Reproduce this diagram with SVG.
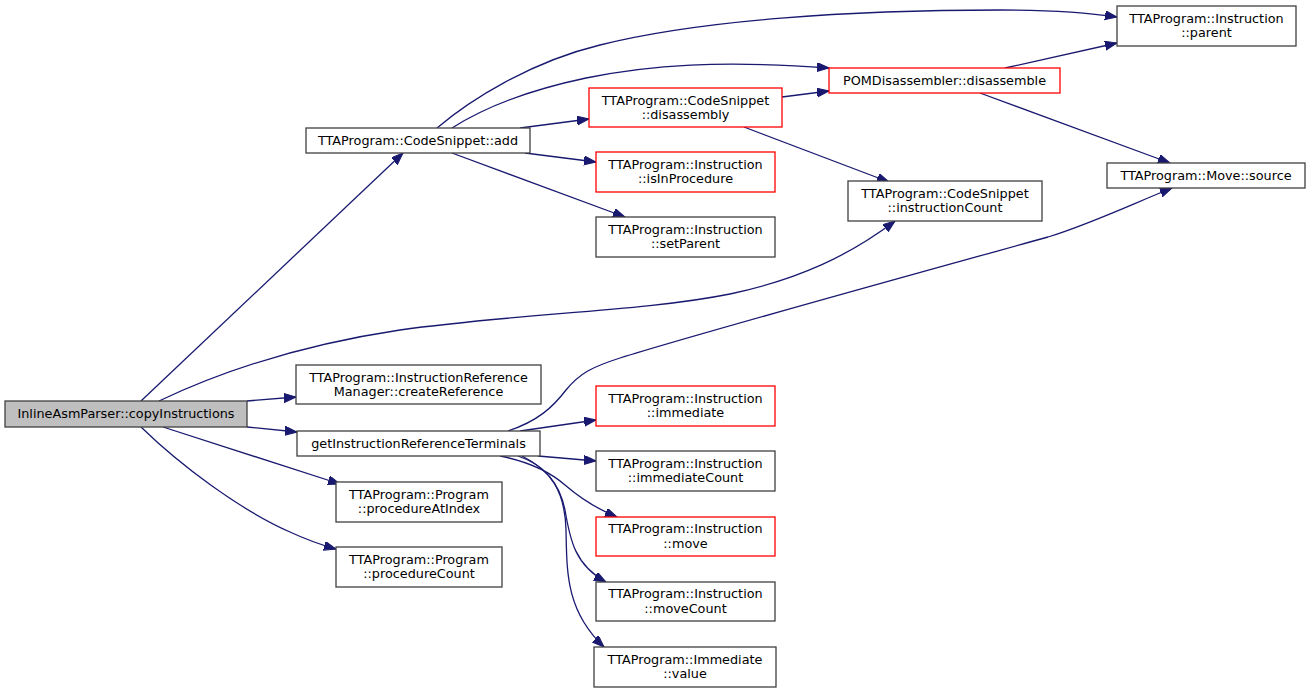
<svg xmlns="http://www.w3.org/2000/svg" width="1311" height="693" viewBox="0 0 1311 693">
<style>
  .bg { fill: #ffffff; }
  .box { fill: #ffffff; stroke: #404040; stroke-width: 1.3; }
  .red { fill: #ffffff; stroke: #ff0000; stroke-width: 1.3; }
  .root { fill: #bfbfbf; stroke: #404040; stroke-width: 1.3; }
  text { font-family: "DejaVu Sans", "Liberation Sans", sans-serif; font-size: 12.8px; fill: #000000; text-anchor: middle; }
  .edge { fill: none; stroke: #191970; stroke-width: 1.3; marker-end: url(#arrow); }
</style>
<defs>
  <marker id="arrow" markerUnits="userSpaceOnUse" markerWidth="14" markerHeight="11" refX="12" refY="4.5" orient="auto" viewBox="0 0 14 11">
    <path d="M0,0 L12,4.5 L0,9 Z" fill="#191970" stroke="#191970" stroke-width="1"/>
  </marker>
</defs>
<rect class="bg" x="0" y="0" width="1311" height="693"/>

<g id="connectors">
  <path class="edge" d="M141,401 L403,153"/>
  <path class="edge" d="M159,401 C220,372 300,345 400,330 C520,313 640,312 730,294 C800,279 850,255 895,221"/>
  <path class="edge" d="M247,401 L296,397"/>
  <path class="edge" d="M247,427 L297,432"/>
  <path class="edge" d="M163,427 L340,484"/>
  <path class="edge" d="M141,427 C180,465 240,510 290,532 C305,539 318,544 336,549"/>
  <path class="edge" d="M437,128 C470,100 530,62 600,45 C700,20 850,10 1000,10 C1050,10 1090,13 1117,17"/>
  <path class="edge" d="M452,128 C480,110 520,92 586,78 C650,65 720,60 829,68"/>
  <path class="edge" d="M520,128 L589,119"/>
  <path class="edge" d="M525,153 L596,162"/>
  <path class="edge" d="M452,153 L625,217"/>
  <path class="edge" d="M782,97 L829,91"/>
  <path class="edge" d="M744,127 L889,182"/>
  <path class="edge" d="M1005,68 L1117,43"/>
  <path class="edge" d="M980,93 L1170,163"/>
  <path class="edge" d="M508,431 C538,421 553,407 566,390 C580,373 592,367 620,358 C700,333 900,278 1048,237 C1090,224 1130,205 1172,188"/>
  <path class="edge" d="M520,431 L596,420"/>
  <path class="edge" d="M538,456 L596,461"/>
  <path class="edge" d="M500,456 C530,462 550,472 565,485 C580,498 595,508 617,517"/>
  <path class="edge" d="M518,456 C545,465 560,485 565,510 C570,540 575,565 606,582"/>
  <path class="edge" d="M522,456 C550,470 565,490 566,530 C567,570 565,610 604,647"/>
</g>

<g id="node-copyInstructions">
  <rect class="root" x="5" y="401" width="242" height="26"/>
  <text x="126" y="418">InlineAsmParser::copyInstructions</text>
</g>
<g id="node-add">
  <rect class="box" x="306" y="128" width="224" height="25"/>
  <text x="418" y="145">TTAProgram::CodeSnippet::add</text>
</g>
<g id="node-disassembly">
  <rect class="red" x="589" y="88" width="193" height="39"/>
  <text x="685.5" y="104.5">TTAProgram::CodeSnippet</text>
  <text x="685.5" y="119">::disassembly</text>
</g>
<g id="node-disassemble">
  <rect class="red" x="829" y="68" width="231" height="25"/>
  <text x="944.5" y="85">POMDisassembler::disassemble</text>
</g>
<g id="node-parent">
  <rect class="box" x="1117" y="6" width="179" height="40"/>
  <text x="1206.5" y="22.5">TTAProgram::Instruction</text>
  <text x="1206.5" y="37">::parent</text>
</g>
<g id="node-source">
  <rect class="box" x="1107" y="163" width="198" height="25"/>
  <text x="1206" y="180">TTAProgram::Move::source</text>
</g>
<g id="node-instructionCount">
  <rect class="box" x="848" y="181" width="194" height="40"/>
  <text x="945" y="197.5">TTAProgram::CodeSnippet</text>
  <text x="945" y="212">::instructionCount</text>
</g>
<g id="node-isInProcedure">
  <rect class="red" x="596" y="152" width="179" height="40"/>
  <text x="685.5" y="168.5">TTAProgram::Instruction</text>
  <text x="685.5" y="183">::isInProcedure</text>
</g>
<g id="node-setParent">
  <rect class="box" x="596" y="217" width="179" height="40"/>
  <text x="685.5" y="233.5">TTAProgram::Instruction</text>
  <text x="685.5" y="248">::setParent</text>
</g>
<g id="node-createReference">
  <rect class="box" x="296" y="365" width="245" height="39"/>
  <text x="418.5" y="381.5">TTAProgram::InstructionReference</text>
  <text x="418.5" y="396">Manager::createReference</text>
</g>
<g id="node-getInstructionReferenceTerminals">
  <rect class="box" x="297" y="431" width="243" height="25"/>
  <text x="418.5" y="448">getInstructionReferenceTerminals</text>
</g>
<g id="node-procedureAtIndex">
  <rect class="box" x="336" y="482" width="166" height="40"/>
  <text x="419" y="498.5">TTAProgram::Program</text>
  <text x="419" y="513">::procedureAtIndex</text>
</g>
<g id="node-procedureCount">
  <rect class="box" x="336" y="547" width="166" height="40"/>
  <text x="419" y="563.5">TTAProgram::Program</text>
  <text x="419" y="578">::procedureCount</text>
</g>
<g id="node-immediate">
  <rect class="red" x="596" y="386" width="179" height="40"/>
  <text x="685.5" y="402.5">TTAProgram::Instruction</text>
  <text x="685.5" y="417">::immediate</text>
</g>
<g id="node-immediateCount">
  <rect class="box" x="596" y="451" width="179" height="40"/>
  <text x="685.5" y="467.5">TTAProgram::Instruction</text>
  <text x="685.5" y="482">::immediateCount</text>
</g>
<g id="node-move">
  <rect class="red" x="596" y="517" width="179" height="39"/>
  <text x="685.5" y="533">TTAProgram::Instruction</text>
  <text x="685.5" y="547.5">::move</text>
</g>
<g id="node-moveCount">
  <rect class="box" x="596" y="582" width="179" height="39"/>
  <text x="685.5" y="598">TTAProgram::Instruction</text>
  <text x="685.5" y="612.5">::moveCount</text>
</g>
<g id="node-value">
  <rect class="box" x="594" y="647" width="182" height="40"/>
  <text x="685" y="663.5">TTAProgram::Immediate</text>
  <text x="685" y="678">::value</text>
</g>
</svg>
